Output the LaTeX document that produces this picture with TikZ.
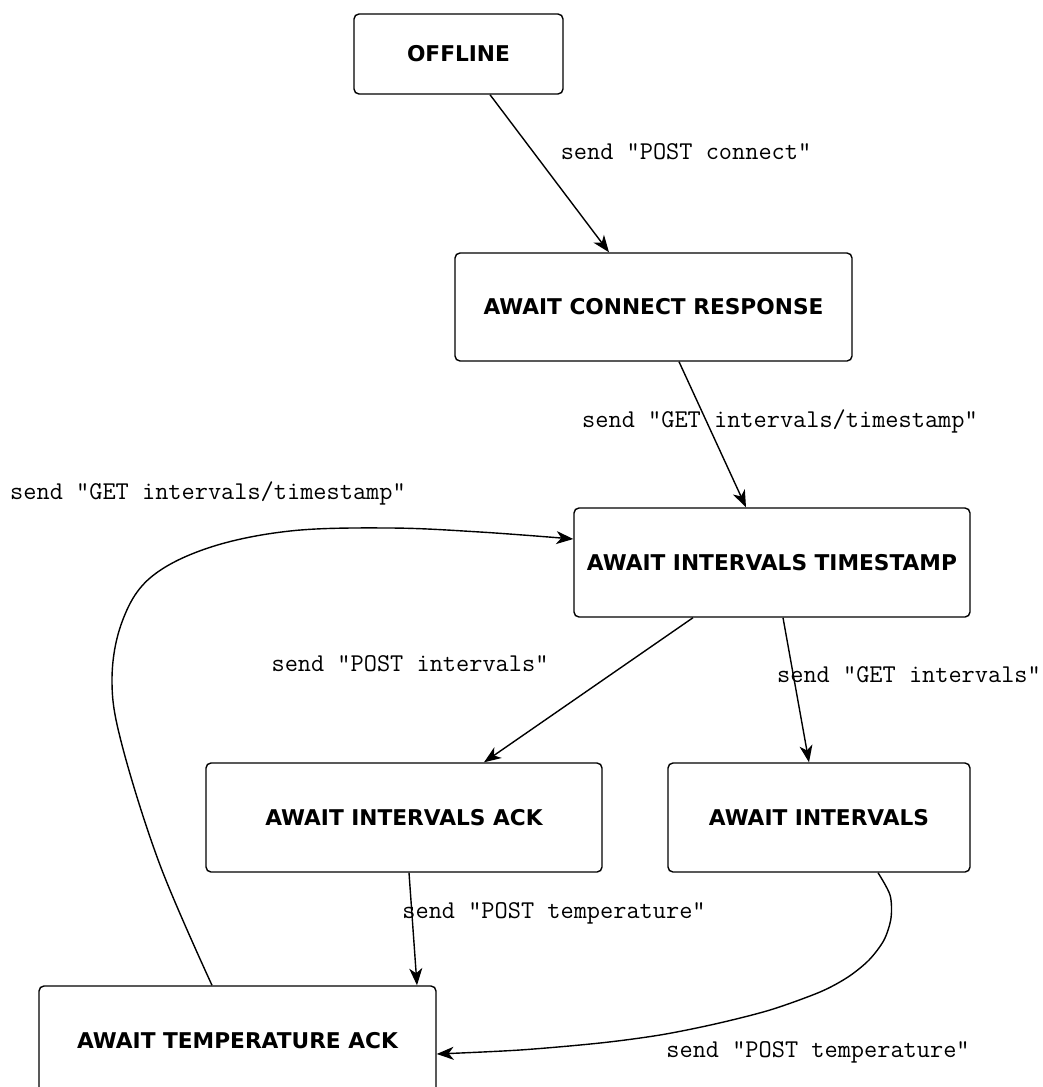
\documentclass[tikz,border=0pt]{standalone}
\usepackage{fontspec}
\newfontfamily\statefont{DejaVu Sans}
\usetikzlibrary{arrows.meta}
\tikzset{
  state/.style={draw, line width=1.4pt, rounded corners=5pt, inner sep=0pt,
    font=\statefont\bfseries\fontsize{21.7}{25}\selectfont, align=center},
  lbl/.style={font=\ttfamily\fontsize{25.6}{29}\selectfont, inner sep=0pt},
  arr/.style={line width=1.4pt, -{Stealth[length=17pt,width=13pt,inset=5pt]}},
}
\begin{document}
\begin{tikzpicture}[x=1pt,y=-1pt]
\useasboundingbox (0,0) rectangle (1043,1087);
\clip (0,0) rectangle (1043,1087);
\node[state, minimum width=209pt, minimum height=80pt] (off) at (458.5,54) {OFFLINE};
\node[state, minimum width=397pt, minimum height=108pt] (acr) at (653.5,307) {AWAIT CONNECT RESPONSE};
\node[state, minimum width=396pt, minimum height=109pt] (ait) at (772,562.5) {AWAIT INTERVALS TIMESTAMP};
\node[state, minimum width=396pt, minimum height=109pt] (aia) at (404,817.5) {AWAIT INTERVALS ACK};
\node[state, minimum width=302pt, minimum height=109pt] (ai) at (819,817.5) {AWAIT INTERVALS};
\node[state, minimum width=397pt, minimum height=109pt] (ata) at (237.5,1040.5) {AWAIT TEMPERATURE ACK};

\coordinate (aiS) at ([xshift=59pt]ai.south);
\coordinate (ataE) at ([yshift=-13.5pt]ata.east);
\coordinate (ataN) at ([xshift=-25.5pt]ata.north);
\coordinate (aitW) at ([yshift=23.5pt]ait.west);

\draw[arr] ([xshift=31.5pt]off.south) -- ([xshift=-44.5pt]acr.north);
\draw[arr] ([xshift=25.5pt]acr.south) -- ([xshift=-26pt]ait.north);
\draw[arr] ([xshift=-79pt]ait.south) -- ([xshift=80pt]aia.north);
\draw[arr] ([xshift=11pt]ait.south) -- ([xshift=-10pt]ai.north);
\draw[arr] ([xshift=5pt]aia.south) -- ([xshift=179.5pt]ata.north);
\draw[arr] plot[smooth, tension=0.5] coordinates {(aiS) (890,895) (891,918) (884,940) (869,960) (848,977) (820,992) (770,1010) (715,1024) (660,1035) (600,1043) (520,1050) (ataE)};
\draw[arr] plot[smooth, tension=0.6] coordinates {(ataN) (160,865) (122,745) (112,680) (122,622) (150,578) (208,548) (290,531) (390,528) (480,532) (aitW)};

\node[lbl] (l1) at (686,152) {send "POST connect"};
\node[lbl] (l2) at (780,421) {send "GET intervals/timestamp"};
\node[lbl] (l3) at (410,664) {send "POST intervals"};
\node[lbl] (l4) at (909,675) {send "GET intervals"};
\node[lbl] (l5) at (554,913) {send "POST temperature"};
\node[lbl] (l6) at (818,1052) {send "POST temperature"};
\node[lbl] (l7) at (208,493) {send "GET intervals/timestamp"};
\end{tikzpicture}
\end{document}
